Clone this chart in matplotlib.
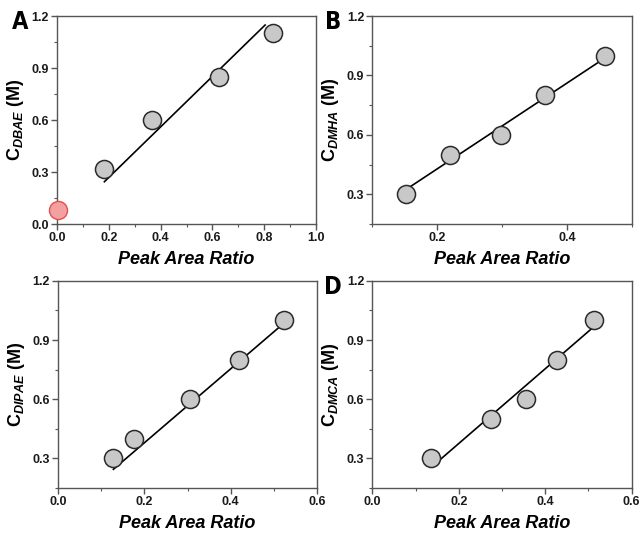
import numpy as np
import matplotlib
matplotlib.use('Agg')
import matplotlib.pyplot as plt
from matplotlib.ticker import MultipleLocator
from matplotlib import font_manager

plt.rcParams['font.family'] = ['Liberation Sans', 'DejaVu Sans']
plt.rcParams['mathtext.fontset'] = 'custom'
plt.rcParams['mathtext.rm'] = 'Liberation Sans:bold'
plt.rcParams['mathtext.it'] = 'Liberation Sans:bold:italic'
plt.rcParams['mathtext.bf'] = 'Liberation Sans:bold'

# panel A (DBAE)
a_x = [0.183, 0.368, 0.625, 0.835]
a_y = [0.32, 0.60, 0.85, 1.10]
a_blank_x = [0.005]
a_blank_y = [0.08]
a_fit_x = [0.183, 0.803]
a_fit_y = [0.244, 1.148]

# panel B (DMHA)
b_x = [0.152, 0.219, 0.298, 0.366, 0.459]
b_y = [0.30, 0.50, 0.60, 0.80, 1.00]
b_fit_x = [0.153, 0.455]
b_fit_y = [0.327, 0.98]

# panel C (DIPAE)
c_x = [0.128, 0.176, 0.306, 0.420, 0.524]
c_y = [0.30, 0.40, 0.60, 0.80, 1.00]
c_fit_x = [0.128, 0.526]
c_fit_y = [0.245, 0.99]

# panel D (DMCA)
d_x = [0.135, 0.274, 0.355, 0.426, 0.513]
d_y = [0.30, 0.50, 0.60, 0.80, 1.00]
d_fit_x = [0.148, 0.511]
d_fit_y = [0.278, 0.965]

fig = plt.figure(figsize=(6.4, 5.34), dpi=100)

axA = fig.add_axes([0.089, 0.5805, 0.405, 0.3895])
axB = fig.add_axes([0.582, 0.5805, 0.405, 0.3895])
axC = fig.add_axes([0.091, 0.086, 0.404, 0.388])
axD = fig.add_axes([0.582, 0.086, 0.405, 0.388])

spine_col = '#555555'


def style(ax, xlim, ylim, xmaj, xmin, ymaj, ymin, name):
    ax.set_xlim(*xlim)
    ax.set_ylim(*ylim)
    ax.xaxis.set_major_locator(MultipleLocator(xmaj))
    ax.xaxis.set_minor_locator(MultipleLocator(xmin))
    ax.yaxis.set_major_locator(MultipleLocator(ymaj))
    ax.yaxis.set_minor_locator(MultipleLocator(ymin))
    for s in ax.spines.values():
        s.set_color(spine_col)
        s.set_linewidth(1.0)
    ax.tick_params(which='major', direction='out', length=4, width=1,
                   color=spine_col, labelsize=9, labelcolor='#1a1a1a', pad=2)
    ax.tick_params(which='minor', direction='out', length=2.5, width=0.8,
                   color=spine_col)
    for lab in ax.get_xticklabels() + ax.get_yticklabels():
        lab.set_fontweight('bold')
    ax.set_xlabel('Peak Area Ratio', fontsize=13, fontweight='bold',
                  style='italic', labelpad=5)
    ax.set_ylabel(r'$\mathrm{C}_{\mathit{' + name + r'}}$ (M)', fontsize=13,
                  fontweight='bold', labelpad=4)


def points(ax, x, y, fx, fy):
    ax.plot(fx, fy, color='black', lw=1.2, zorder=2)
    ax.plot(x, y, 'o', ms=13, mfc='#c8c8c8', mec='#2a2a2a', mew=1.1,
            ls='none', zorder=3)


points(axA, a_x, a_y, a_fit_x, a_fit_y)
axA.plot(a_blank_x, a_blank_y, 'o', ms=13, mfc='#f4a0a0', mec='#e05050',
         mew=1.0, ls='none', zorder=3, clip_on=False)
style(axA, (0, 1.0), (0, 1.2), 0.2, 0.1, 0.3, 0.15, 'DBAE')

points(axB, b_x, b_y, b_fit_x, b_fit_y)
style(axB, (0.1, 0.5), (0.15, 1.2), 0.2, 0.1, 0.3, 0.15, 'DMHA')

points(axC, c_x, c_y, c_fit_x, c_fit_y)
style(axC, (0, 0.6), (0.15, 1.2), 0.2, 0.1, 0.3, 0.15, 'DIPAE')

points(axD, d_x, d_y, d_fit_x, d_fit_y)
style(axD, (0, 0.6), (0.15, 1.2), 0.2, 0.1, 0.3, 0.15, 'DMCA')

letter_font = font_manager.FontProperties(family='DejaVu Sans',
                                          stretch='condensed',
                                          weight='bold', size=17)
letter_kw = dict(fontproperties=letter_font, ha='center', va='center')
fig.text(20 / 640, 1 - 22 / 534, 'A', **letter_kw)
fig.text(333 / 640, 1 - 22 / 534, 'B', **letter_kw)
fig.text(333 / 640, 1 - 287 / 534, 'D', **letter_kw)

fig.savefig('out.png', dpi=100)
